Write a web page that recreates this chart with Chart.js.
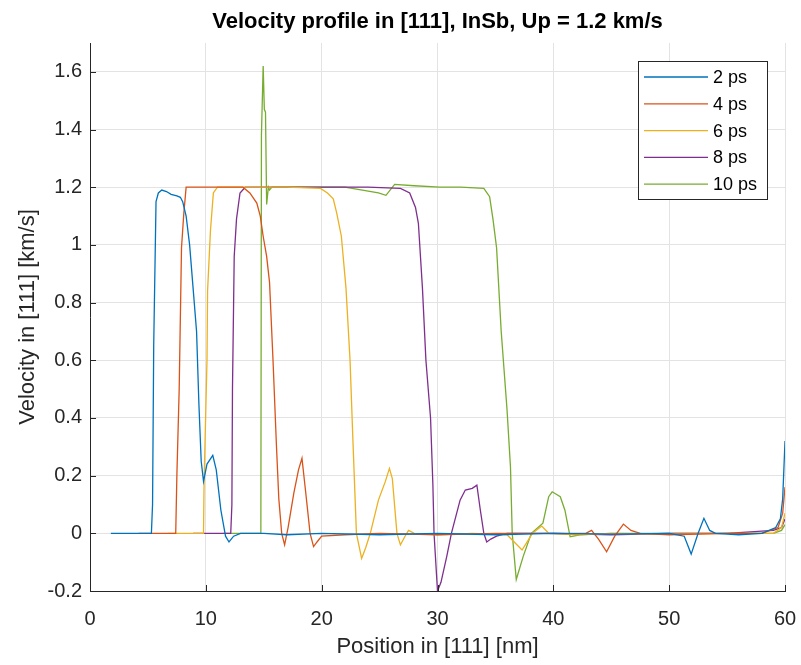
<!DOCTYPE html>
<html>
<head>
<meta charset="utf-8">
<script src="https://cdn.jsdelivr.net/npm/chart.js@4.4.1/dist/chart.umd.min.js"></script>
<style>
  html, body { margin: 0; padding: 0; background: #fff; }
  #wrap { width: 801px; height: 665px; }
</style>
</head>
<body>
<div id="wrap"><canvas id="velocityChart"></canvas></div>
<script>
// series labels and colours (MATLAB default order)
const seriesLabels = ['2 ps', '4 ps', '6 ps', '8 ps', '10 ps'];
const seriesColors = ['#0072BD', '#D95319', '#EDB120', '#7E2F8E', '#77AC30'];

// 2 ps
const pos2 = [1.8, 5.3, 5.4, 5.5, 5.7, 5.9, 6.2, 6.6, 7.0, 7.5, 7.8, 8.0, 8.3, 8.6, 8.9, 9.2, 9.4, 9.6, 9.8, 10.1, 10.6, 10.9, 11.3, 11.7, 12.0, 12.4, 13.0, 15, 17, 20, 25, 30, 35, 40, 45, 50, 51.3, 51.9, 52.5, 53.0, 53.5, 54, 56, 58, 59.2, 59.6, 59.8, 60];
const vel2 = [0, 0, 0.1, 0.65, 1.15, 1.18, 1.19, 1.185, 1.175, 1.17, 1.165, 1.15, 1.1, 1.0, 0.85, 0.7, 0.45, 0.25, 0.18, 0.24, 0.27, 0.22, 0.08, -0.01, -0.03, -0.01, 0, 0, -0.005, 0, -0.005, 0, -0.005, 0, -0.003, 0, -0.01, -0.072, 0, 0.052, 0.01, 0, -0.005, 0, 0.02, 0.05, 0.12, 0.32];

// 4 ps
const pos4 = [4.2, 7.4, 7.5, 7.7, 7.9, 8.1, 8.3, 9, 10, 11, 12, 13.2, 13.8, 14.4, 14.7, 14.95, 15.25, 15.5, 15.8, 16.1, 16.3, 16.55, 16.8, 17.1, 17.6, 18.0, 18.3, 18.6, 19.0, 19.3, 19.6, 20.0, 22, 25, 30, 35, 40, 42.8, 43.3, 43.9, 44.6, 45.3, 46.05, 46.7, 47.5, 50, 55, 58, 59.4, 59.8, 60];
const vel4 = [0, 0, 0.2, 0.5, 0.99, 1.11, 1.2, 1.2, 1.2, 1.2, 1.2, 1.2, 1.18, 1.145, 1.1, 1.03, 0.96, 0.87, 0.6, 0.3, 0.12, 0, -0.04, 0.02, 0.14, 0.22, 0.26, 0.15, 0, -0.046, -0.03, -0.01, -0.005, 0, -0.005, 0, 0, 0, 0.01, -0.02, -0.064, -0.01, 0.032, 0.01, 0, -0.005, 0, 0, 0.02, 0.07, 0.16];

// 6 ps
const pos6 = [6.7, 9.8, 9.85, 10.1, 10.15, 10.4, 10.65, 11.0, 13, 15, 17, 19.9, 20.5, 21.0, 21.3, 21.7, 22.1, 22.45, 22.7, 23.0, 23.45, 23.8, 24.2, 24.9, 25.5, 25.85, 26.1, 26.5, 26.8, 27.2, 27.5, 28, 30, 33, 36, 37.3, 38.2, 39.0, 39.6, 42, 45, 50, 55, 59, 59.7, 60];
const vel6 = [0, 0, 0.18, 0.6, 0.84, 1.05, 1.18, 1.2, 1.2, 1.2, 1.2, 1.196, 1.18, 1.16, 1.11, 1.03, 0.85, 0.6, 0.32, 0, -0.087, -0.05, 0, 0.115, 0.18, 0.225, 0.19, 0, -0.04, -0.01, 0.01, 0, -0.005, 0, -0.005, -0.058, 0, 0.025, 0, -0.005, 0, -0.003, 0, 0, 0.02, 0.07];

// 8 ps
const pos8 = [8.9, 12.15, 12.25, 12.3, 12.45, 12.65, 12.95, 13.4, 16, 20, 24, 26.8, 27.6, 28.1, 28.35, 28.7, 29.0, 29.4, 29.6, 29.7, 30.0, 30.3, 30.8, 31.2, 31.95, 32.4, 33.0, 33.4, 33.7, 34.0, 34.25, 34.6, 35.1, 36, 40, 45, 50, 55, 59, 59.7, 60];
const vel8 = [0, 0, 0.1, 0.5, 0.96, 1.09, 1.18, 1.2, 1.2, 1.2, 1.2, 1.196, 1.18, 1.13, 1.075, 0.85, 0.6, 0.4, 0.17, 0, -0.2, -0.17, -0.08, 0, 0.115, 0.15, 0.156, 0.167, 0.08, 0, -0.03, -0.02, -0.01, 0, 0, -0.005, 0, 0, 0.01, 0.02, 0.05];

// 10 ps
const pos10 = [11.5, 14.75, 14.8, 14.95, 15.05, 15.15, 15.25, 15.4, 15.5, 15.7, 18, 22, 24.9, 25.55, 26.3, 28, 30.2, 32, 34.0, 34.5, 34.8, 35.1, 35.5, 36.0, 36.3, 36.45, 36.8, 37.4, 38.1, 39.1, 39.6, 39.9, 40.6, 41.0, 41.45, 42.3, 45, 50, 55, 59, 59.7, 60];
const vel10 = [0, 0, 1.38, 1.62, 1.47, 1.46, 1.14, 1.2, 1.19, 1.2, 1.2, 1.2, 1.18, 1.172, 1.21, 1.205, 1.2, 1.2, 1.196, 1.167, 1.086, 0.99, 0.7, 0.43, 0.23, 0, -0.16, -0.08, 0, 0.035, 0.127, 0.144, 0.127, 0.08, -0.012, -0.005, 0, 0, 0, 0, 0.01, 0.03];

// axis ticks
const xTicks = [0, 10, 20, 30, 40, 50, 60];
const yTicks = [-0.2, 0, 0.2, 0.4, 0.6, 0.8, 1, 1.2, 1.4, 1.6];
const yTickLabels = ['-0.2', '0', '0.2', '0.4', '0.6', '0.8', '1', '1.2', '1.4', '1.6'];

const allPos = [pos2, pos4, pos6, pos8, pos10];
const allVel = [vel2, vel4, vel6, vel8, vel10];

const axisColor = '#262626';
const gridColor = '#e3e3e3';
const fontFamily = "'Liberation Sans', Arial, Helvetica, sans-serif";

const datasets = seriesLabels.map((label, i) => ({
    label: label,
    data: allPos[i].map((x, j) => ({ x: x, y: allVel[i][j] })),
    borderColor: seriesColors[i],
    backgroundColor: seriesColors[i],
    borderWidth: 1.3,
    pointRadius: 0,
    tension: 0,
    fill: false
}));

// title, inward tick marks and MATLAB style legend box
const decorPlugin = {
    id: 'decor',
    afterDraw(chart) {
        const c = chart.ctx;
        const area = chart.chartArea;
        const xs = chart.scales.x, ys = chart.scales.y;
        c.save();
        // inward ticks
        c.strokeStyle = axisColor;
        c.lineWidth = 1;
        c.beginPath();
        yTicks.forEach(v => {
            const py = Math.round(ys.getPixelForValue(v)) + 0.5;
            c.moveTo(area.left, py);
            c.lineTo(area.left + 6, py);
        });
        xTicks.forEach(v => {
            const px = Math.round(xs.getPixelForValue(v)) + 0.5;
            c.moveTo(px, area.bottom);
            c.lineTo(px, area.bottom - 6);
        });
        c.stroke();

        // title
        c.fillStyle = '#000';
        c.font = "bold 22px " + fontFamily;
        c.textAlign = 'center';
        c.textBaseline = 'middle';
        c.fillText('Velocity profile in [111], InSb, Up = 1.2 km/s', (area.left + area.right) / 2, 22);

        // legend
        const bx = 638.5, by = 61.5, bw = 129, bh = 138;
        c.fillStyle = '#fff';
        c.fillRect(bx, by, bw, bh);
        c.strokeStyle = axisColor;
        c.strokeRect(bx, by, bw, bh);
        c.font = "18px " + fontFamily;
        c.textAlign = 'left';
        seriesLabels.forEach((label, i) => {
            const ly = 77 + i * 26.8;
            c.strokeStyle = seriesColors[i];
            c.lineWidth = 1.3;
            c.beginPath();
            c.moveTo(644, ly);
            c.lineTo(708, ly);
            c.stroke();
            c.fillStyle = '#000';
            c.fillText(label, 713, ly + 1);
        });
        c.restore();
    }
};

const ctx = document.getElementById('velocityChart').getContext('2d');
new Chart(ctx, {
    type: 'line',
    data: { datasets: datasets },
    options: {
        responsive: true,
        maintainAspectRatio: false,
        animation: false,
        layout: { padding: { top: 43, right: 16, left: 0, bottom: 0 } },
        plugins: {
            legend: { display: false },
            title: { display: false },
            tooltip: { enabled: false }
        },
        scales: {
            x: {
                type: 'linear',
                min: 0,
                max: 60,
                afterFit: s => { s.height = 74; s.paddingLeft = 0; s.paddingRight = 0; },
                afterBuildTicks: s => { s.ticks = xTicks.map(v => ({ value: v })); },
                grid: { color: gridColor, drawTicks: false },
                border: { color: axisColor },
                ticks: {
                    color: axisColor,
                    padding: 16,
                    font: { family: fontFamily, size: 20 },
                    maxRotation: 0
                },
                title: {
                    display: true,
                    text: 'Position in [111] [nm]',
                    color: axisColor,
                    font: { family: fontFamily, size: 22 },
                    padding: { top: 0, bottom: 5 }
                }
            },
            y: {
                type: 'linear',
                min: -0.2,
                max: 1.7,
                afterFit: s => { s.width = 90; s.paddingTop = 0; s.paddingBottom = 0; },
                afterBuildTicks: s => { s.ticks = yTicks.map(v => ({ value: v })); },
                grid: { color: gridColor, drawTicks: false },
                border: { color: axisColor },
                ticks: {
                    color: axisColor,
                    padding: 8,
                    font: { family: fontFamily, size: 20 },
                    callback: (v, i) => yTickLabels[i]
                },
                title: {
                    display: true,
                    text: 'Velocity in [111] [km/s]',
                    color: axisColor,
                    font: { family: fontFamily, size: 22 },
                    padding: { top: 15, bottom: 0 }
                }
            }
        }
    },
    plugins: [decorPlugin]
});
</script>
</body>
</html>
